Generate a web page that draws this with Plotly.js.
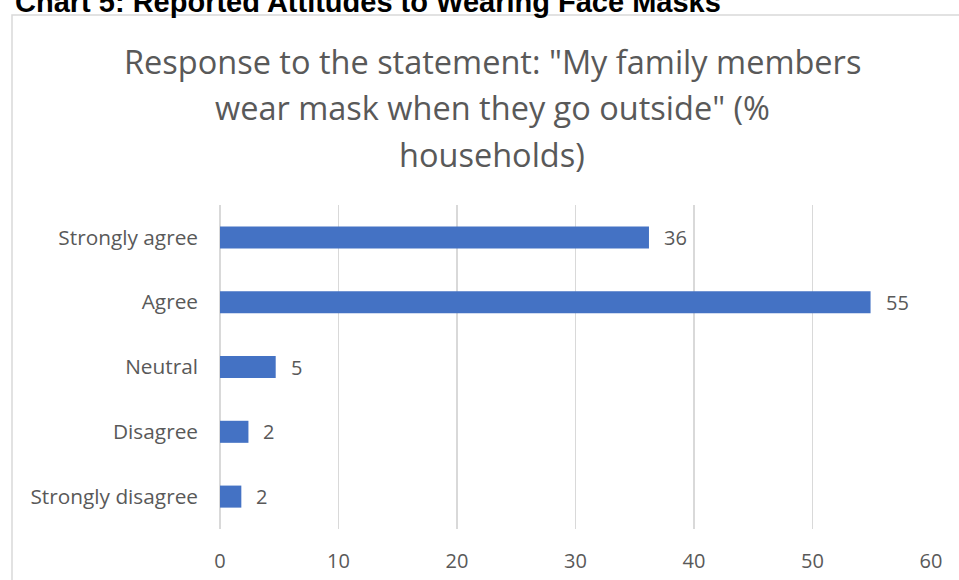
<!DOCTYPE html>
<html>
<head>
<meta charset="utf-8">
<script src="https://cdn.plot.ly/plotly-3.0.1.min.js"></script>
<style>html,body{margin:0;padding:0;background:#fff;}#chart{width:959px;height:580px;}</style>
</head>
<body>
<div id="chart"></div>
<script>
var categories = ["Strongly agree", "Agree", "Neutral", "Disagree", "Strongly disagree"];
var values = [36.2, 54.9, 4.7, 2.4, 1.8];
var labels = ["36", "55", "5", "2", "2"];
var xTicks = [0, 10, 20, 30, 40, 50, 60];
var titleLines = ["Response to the statement: \"My family members", "wear mask when they go outside\" (%", "households)"];
var header = "Chart 5: Reported Attitudes to Wearing Face Masks";

var grey = "#595959";
// plot area in pixels
var L = 220, R = 931, T = 205, B = 529;
function px(x) { return (x - L) / (R - L); }
function py(y) { return (B - y) / (B - T); }

var trace = {
  type: "bar",
  orientation: "h",
  y: categories,
  x: values,
  width: 0.34,
  marker: {color: "#4472C4"},
  hoverinfo: "none"
};

var annotations = categories.map(function (c, i) {
  return {x: values[i], y: c, xref: "x", yref: "y", text: labels[i], showarrow: false,
    xanchor: "left", xshift: 13, font: {family: "Open Sans", size: 20, color: grey}};
});
var titleY = [61, 107.5, 154];
titleLines.forEach(function (t, i) {
  annotations.push({xref: "paper", yref: "paper", x: px(492), y: py(titleY[i]),
    xanchor: "center", yanchor: "middle", showarrow: false, text: t,
    font: {family: "Open Sans", size: 32.5, color: grey}});
});
annotations.push({
  xref: "paper", yref: "paper", x: px(13), y: py(2),
  xanchor: "left", yanchor: "middle", showarrow: false,
  text: "<b>" + header + "</b>",
  font: {family: "Liberation Sans", size: 29, color: "#000"}
});

var layout = {
  width: 959, height: 580,
  margin: {l: L, r: 959 - R, t: T, b: 580 - B},
  paper_bgcolor: "#fff", plot_bgcolor: "#fff",
  showlegend: false,
  xaxis: {
    range: [0, 60], tickvals: xTicks, ticktext: xTicks.map(String),
    showgrid: true, gridcolor: "#d9d9d9", gridwidth: 1.5,
    zeroline: true, zerolinecolor: "#d9d9d9", zerolinewidth: 1.5,
    showline: false, ticks: "", ticklabelstandoff: 18,
    tickfont: {family: "Open Sans", size: 20, color: grey}, fixedrange: true
  },
  yaxis: {
    type: "category", autorange: "reversed",
    showgrid: false, zeroline: false, showline: false, ticks: "",
    ticklabelstandoff: 21,
    tickfont: {family: "Open Sans", size: 20.8, color: grey}, fixedrange: true
  },
  shapes: [{
    type: "rect", xref: "paper", yref: "paper",
    x0: px(12), x1: 1.2, y0: -0.5, y1: py(15),
    line: {color: "#d9d9d9", width: 1.5}, fillcolor: "rgba(0,0,0,0)", layer: "below"
  }],
  annotations: annotations
};

Plotly.newPlot("chart", [trace], layout, {displayModeBar: false, staticPlot: true});
</script>
</body>
</html>
